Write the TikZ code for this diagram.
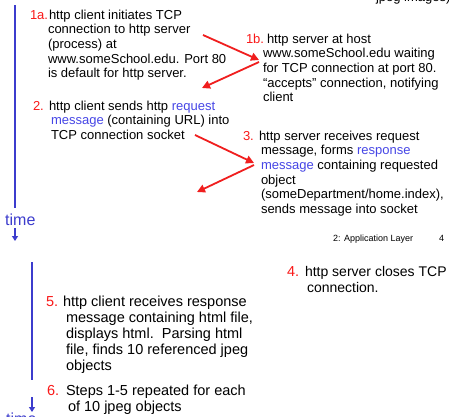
\documentclass[tikz,border=0pt]{standalone}
\usepackage{fontspec}
\setmainfont{Liberation Sans}
\usetikzlibrary{arrows.meta}
\definecolor{numred}{RGB}{250,25,25}
\definecolor{linblue}{RGB}{60,60,205}
\definecolor{txtblue}{RGB}{70,70,230}
\definecolor{arrred}{RGB}{240,30,30}
\begin{document}
\begin{tikzpicture}[x=1pt,y=-1pt,
  txt/.style={anchor=base west, inner sep=0pt, outer sep=0pt, align=left, font=\fontsize{13}{14.7}\selectfont},
  txtb/.style={txt, font=\fontsize{14.5}{16}\selectfont},
  txtc/.style={txt, font=\fontsize{14}{16}\selectfont},
  num/.style={txt, text=numred},
  numb/.style={txtb, text=numred},
  redarrow/.style={draw=arrred, line width=1.8pt, -{Triangle[length=8pt,width=8pt]}},
  timeline/.style={draw=linblue, line width=2pt},
  timearrow/.style={draw=linblue, line width=1.6pt, -{Triangle[length=5pt,width=6pt]}},
  timetxt/.style={anchor=base west, inner sep=0pt, text=linblue, font=\fontsize{16}{18}\selectfont},
  foot/.style={anchor=base west, inner sep=0pt, font=\fontsize{9}{10}\selectfont}
]
\useasboundingbox[fill=white] (0,0) rectangle (449,416);

% cut-off text at top (base anchor of a multi-line node = last line)
\node[txt] (top) at (376,1) {jpeg images)};

% time lines
\coordinate (l1a) at (15,5);
\coordinate (l1b) at (15,208);
\draw[timeline] (l1a) -- (l1b);
\node[timetxt] (time1) at (5,225) {time};
\coordinate (t1a) at (15,228);
\coordinate (t1b) at (15,241);
\draw[timearrow] (t1a) -- (t1b);

\coordinate (l2a) at (32,262);
\coordinate (l2b) at (32,380);
\draw[timeline] (l2a) -- (l2b);
\coordinate (t2a) at (32,397);
\coordinate (t2b) at (32,412);
\node[timetxt] (time2) at (6,424) {time};
\draw[timearrow] (t2a) -- (t2b);

% step 1a  (first baseline 19, 5 lines)
\node[num] (n1a) at (30,19) {1a.};
\node[txt] (s1a) at (48,77.8) {\hspace{1pt}http client initiates TCP\\connection to http server\\(process) at\\www.someSchool.edu. Port 80\\is default for http server.};

% step 1b  (first baseline 43, 5 lines)
\node[num] (n1b) at (246,43) {1b.};
\node[txt] (s1b) at (263,101.8) {\hspace{4pt}http server at host\\www.someSchool.edu waiting\\for TCP connection at port 80.\\“accepts” connection, notifying\\client};

% step 2  (first baseline 110, 3 lines)
\node[num] (n2) at (33,110) {2.};
\node[txt] (s2) at (51,139.4) {\hspace{-2pt}http client sends http \textcolor{txtblue}{request}\\\textcolor{txtblue}{message} (containing URL) into\\TCP connection socket};

% step 3  (first baseline 140, 6 lines)
\node[num] (n3) at (243,140) {3.};
\node[txt] (s3) at (261,213.5) {\hspace{-2pt}http server receives request\\message, forms \textcolor{txtblue}{response}\\\textcolor{txtblue}{message} containing requested\\object\\(someDepartment/home.index),\\sends message into socket};

% footer
\node[foot] (foot) at (333,241) {2: Application Layer};
\node[foot] (page) at (439,241) {4};

% step 4  (first baseline 276, 2 lines)
\node[numb] (n4) at (287,276) {4.};
\node[txtc] (s4) at (307,292) {\hspace{-2pt}http server closes TCP\\connection.};

% step 5  (first baseline 306, 5 lines)
\node[numb] (n5) at (46,306) {5.};
\node[txtb] (s5) at (66,370) {\hspace{-3pt}http client receives response\\message containing html file,\\displays html.\ \ Parsing html\\file, finds 10 referenced jpeg\\objects};

% step 6  (first baseline 395, 2 lines)
\node[numb] (n6) at (47,395) {6.};
\node[txtb] (s6) at (68,411) {\hspace{-2pt}Steps 1-5 repeated for each\\of 10 jpeg objects};

% red arrows
\coordinate (a1s) at (203,35);
\coordinate (a1e) at (259,60);
\coordinate (a2s) at (259,62);
\coordinate (a2e) at (202,88);
\coordinate (a3s) at (195,135);
\coordinate (a3e) at (254,163);
\coordinate (a4s) at (254,165);
\coordinate (a4e) at (197,192);
\draw[redarrow] (a1s) -- (a1e);
\draw[redarrow] (a2s) -- (a2e);
\draw[redarrow] (a3s) -- (a3e);
\draw[redarrow] (a4s) -- (a4e);
\end{tikzpicture}
\end{document}
